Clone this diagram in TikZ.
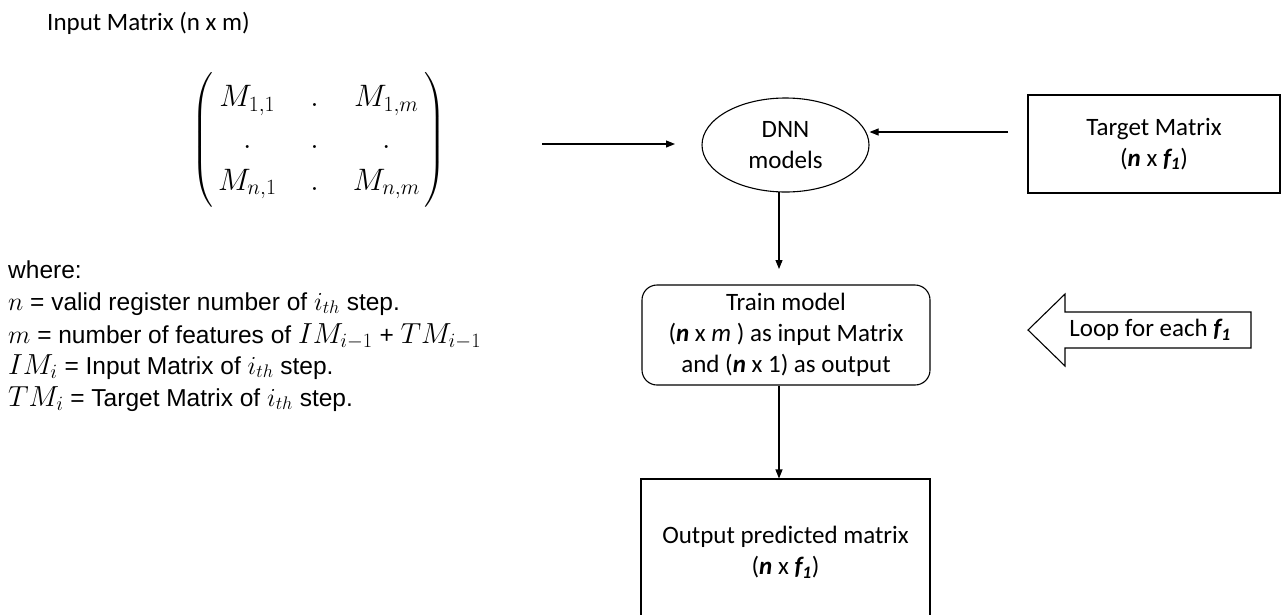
\RequirePackage{fix-cm}
\documentclass[tikz,border=0pt]{standalone}
\usepackage{amsmath}
\usepackage{fontspec}
\setmainfont{Carlito}
\newfontfamily\robo{Liberation Sans}
\usetikzlibrary{arrows.meta,shapes.geometric}
\begin{document}
\begin{tikzpicture}[x=1pt,y=-1pt,
  arr/.style={draw=black,line width=1.1pt,-{Triangle[length=9pt,width=7pt]}},
  box/.style={draw=black,line width=1.1pt,align=center,inner sep=0pt,font=\fontsize{25}{31}\selectfont},
  wtext/.style={anchor=base west,inner sep=0pt,font=\robo\fontsize{24.5}{29}\selectfont}]
\clip (0,0) rectangle (1284,614);
\fill[white] (0,0) rectangle (1284,614);
% title
\node[anchor=base west,inner sep=0pt,font=\fontsize{25}{30}\selectfont] (title) at (47,30) {Input Matrix (n x m)};
% matrix
\node[inner sep=0pt,font=\fontsize{31}{37}\selectfont] (mat) at (319,140)
  {\renewcommand{\arraystretch}{1.13}\setlength{\arraycolsep}{17pt}%
   $\left(\begin{array}{@{\hspace{5pt}}ccc@{\hspace{5pt}}} M_{1,1} & . & M_{1,m}\\ . & . & .\\ M_{n,1} & . & M_{n,m}\end{array}\right)$};
% where text
\newcommand{\mS}[1]{{\fontsize{26}{30}\selectfont$#1$}}
\newcommand{\mL}[1]{{\fontsize{29}{33}\selectfont$#1$}}
\node[wtext] (w0) at (8,278) {where:};
\node[wtext] (w1) at (8,310) {\mS{n} = valid register number of \mS{i_{th}} step.};
\node[wtext] (w2) at (8,343) {\mS{m} = number of features of \mL{IM_{i-1}} + \mL{TM_{i-1}}};
\node[wtext] (w3) at (8,374) {\mL{IM_i} = Input Matrix of \mS{i_{th}} step.};
\node[wtext] (w4) at (8,406) {\mL{TM_i} = Target Matrix of \mS{i_{th}} step.};
% DNN
\node[box,ellipse,minimum width=167pt,minimum height=94pt] (dnn) at (785.5,145) {DNN\\models};
% target
\node[box,minimum width=252pt,minimum height=98pt] (tgt) at (1154,144)
  {Target Matrix\\(\textbf{\textit{n}} x \textbf{\textit{f\textsubscript{1}}})};
% train
\node[box,rounded corners=15pt,minimum width=288pt,minimum height=100pt] (train) at (786,335)
  {Train model\\(\textbf{\textit{n}} x \textit{m} ) as input Matrix\\and (\textbf{\textit{n}} x 1) as output};
% output
\node[box,minimum width=289pt,minimum height=146pt] (out) at (785.5,552)
  {Output predicted matrix\\(\textbf{\textit{n}} x \textbf{\textit{f\textsubscript{1}}})};
% loop arrow
\draw[line width=1.1pt,fill=white] (1028,330) -- (1065,294) -- (1065,312) -- (1251,312) -- (1251,348) -- (1065,348) -- (1065,366) -- cycle;
\node[inner sep=0pt,font=\fontsize{25}{30}\selectfont] (loop) at (1150,330) {Loop for each \textbf{\textit{f\textsubscript{1}}}};
% connectors
\coordinate (m1) at (542,144);
\coordinate (m2) at (675,144);
\draw[arr] (m1) -- (m2);
\coordinate (t1) at (1008,132);
\draw[arr] (t1) -- (t1 -| dnn.east);
\coordinate (v1) at (779,192);
\coordinate (v2) at (779,269);
\draw[arr] (v1) -- (v2);
\draw[arr] (train.south -| v1) -- (out.north -| v1);
\end{tikzpicture}
\end{document}
